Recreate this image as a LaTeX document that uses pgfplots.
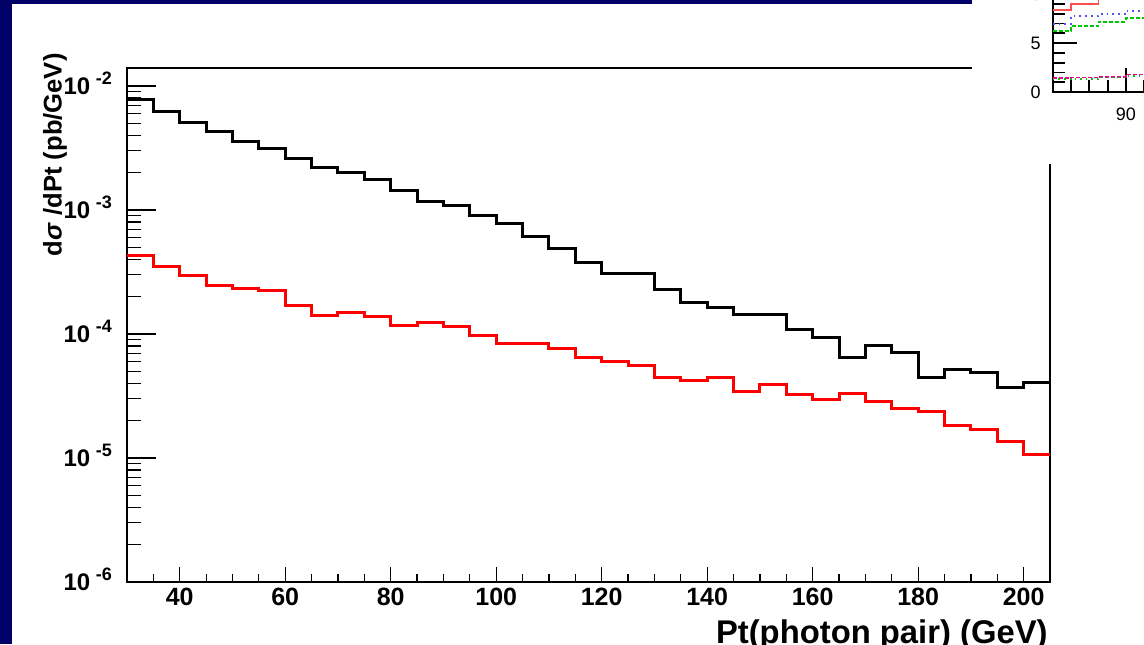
\documentclass[border=0pt]{standalone}
\usepackage{fontspec}
\setmainfont{Liberation Sans}
\usepackage{pgfplots}
\pgfplotsset{compat=1.18}
\definecolor{navy}{RGB}{0,0,102}
\definecolor{lred}{RGB}{255,80,80}
\definecolor{lblue}{RGB}{80,80,255}
\definecolor{lgreen}{RGB}{0,200,0}
\newcommand{\ylab}[1]{10\hspace{2.8pt}\smash{\raisebox{4.8pt}{\fontsize{9}{9}\selectfont\bfseries #1}}}
\begin{document}
\begin{tikzpicture}
\useasboundingbox (0,0) rectangle (572pt,-322pt);
\clip (0,0) rectangle (572pt,-322pt);
\fill[navy] (0,0) rectangle (572pt,-322pt);
\fill[white] (6pt,-2pt) rectangle (572pt,-322pt);
% main axis (y ticks, frame, histograms)
\begin{axis}[
  at={(63.5pt,-291pt)}, anchor=south west, scale only axis,
  width=461.5pt, height=257pt,
  xmin=30, xmax=205, ymode=log, ymin=1e-6, ymax=0.01396,
  xtick=\empty,
  ytick={1e-6,1e-5,1e-4,1e-3,1e-2},
  minor ytick={2e-6,3e-6,4e-6,5e-6,6e-6,7e-6,8e-6,9e-6,
               2e-5,3e-5,4e-5,5e-5,6e-5,7e-5,8e-5,9e-5,
               2e-4,3e-4,4e-4,5e-4,6e-4,7e-4,8e-4,9e-4,
               2e-3,3e-3,4e-3,5e-3,6e-3,7e-3,8e-3,9e-3},
  yticklabels={\ylab{-6},\ylab{-5},\ylab{-4},\ylab{-3},\ylab{-2}},
  ytick pos=left, tick align=inside,
  major tick length=14.5pt, minor tick length=7pt,
  axis line style={line width=0.6pt},
  tick style={black, line width=0.6pt},
  yticklabel style={font=\fontsize{12}{12}\selectfont\bfseries, anchor=east, xshift=-4pt},
]
\addplot[const plot, mark=none, black, line width=1.5pt] coordinates {
(30,7.76e-3) (35,6.2e-3) (40,5.09e-3) (45,4.28e-3) (50,3.56e-3) (55,3.14e-3)
(60,2.58e-3) (65,2.21e-3) (70,1.99e-3) (75,1.75e-3) (80,1.43e-3) (85,1.17e-3)
(90,1.08e-3) (95,9.0e-4) (100,7.81e-4) (105,6.1e-4) (110,4.85e-4) (115,3.78e-4)
(120,3.05e-4) (125,3.05e-4) (130,2.28e-4) (135,1.78e-4) (140,1.64e-4) (145,1.44e-4)
(150,1.44e-4) (155,1.09e-4) (160,9.4e-5) (165,6.44e-5) (170,8.1e-5) (175,7.1e-5)
(180,4.42e-5) (185,5.15e-5) (190,4.91e-5) (195,3.69e-5) (200,4.07e-5) (205,4.07e-5)};
\addplot[const plot, mark=none, red, line width=1.5pt] coordinates {
(30,4.28e-4) (35,3.52e-4) (40,2.99e-4) (45,2.45e-4) (50,2.34e-4) (55,2.24e-4)
(60,1.71e-4) (65,1.41e-4) (70,1.48e-4) (75,1.38e-4) (80,1.17e-4) (85,1.24e-4)
(90,1.15e-4) (95,9.7e-5) (100,8.45e-5) (105,8.45e-5) (110,7.66e-5) (115,6.45e-5)
(120,5.98e-5) (125,5.56e-5) (130,4.45e-5) (135,4.18e-5) (140,4.45e-5) (145,3.43e-5)
(150,3.90e-5) (155,3.27e-5) (160,2.94e-5) (165,3.34e-5) (170,2.88e-5) (175,2.53e-5)
(180,2.35e-5) (185,1.82e-5) (190,1.69e-5) (195,1.35e-5) (200,1.07e-5) (205,1.07e-5)};
\end{axis}
% overlay axis for x ticks
\begin{axis}[
  at={(63.5pt,-291pt)}, anchor=south west, scale only axis,
  width=461.5pt, height=257pt,
  xmin=30, xmax=205, ymin=0, ymax=1,
  hide y axis, axis x line*=bottom, axis line style={-, line width=0.6pt},
  xtick={40,60,80,100,120,140,160,180,200},
  minor xtick={35,45,50,55,65,70,75,85,90,95,105,110,115,125,130,135,145,150,155,165,170,175,185,190,195},
  xticklabels={40,60,80,100,120,140,160,180,200},
  tick align=inside, major tick length=7.7pt, minor tick length=3.8pt,
  tick style={black, line width=0.6pt},
  xticklabel style={font=\fontsize{12.5}{12.5}\selectfont\bfseries, yshift=0.5pt},
]
\end{axis}
% inset image region
\fill[white] (486pt,0pt) rectangle (572pt,-82pt);
\begin{axis}[
  at={(526.35pt,-46pt)}, anchor=south west, scale only axis,
  width=54.9pt, height=53.9pt,
  xmin=86, xmax=92, ymin=0, ymax=11,
  xtick={90}, minor xtick={87,88,89,91,92},
  ytick={0,5,10}, minor ytick={1,2,3,4,6,7,8,9},
  xticklabels={90}, yticklabels={0,5,10},
  xtick pos=left, ytick pos=left, tick align=inside,
  major tick length=12pt, minor tick length=6pt,
  axis line style={line width=0.9pt},
  tick style={black, line width=0.9pt},
  ticklabel style={font=\fontsize{9}{9}\selectfont},
  xticklabel style={yshift=-4.3pt}, yticklabel style={xshift=-2.5pt},
]
\addplot[const plot, mark=none, lred, line width=0.9pt] coordinates {(86,8.4) (87,8.95) (88.5,9.5) (90,9.7) (92,9.7)};
\addplot[const plot, mark=none, lblue, line width=0.9pt, dotted] coordinates {(86,6.94) (87,7.76) (88.5,7.96) (90,8.27) (92,8.27)};
\addplot[const plot, mark=none, lgreen, line width=0.9pt, dash pattern=on 2pt off 1pt] coordinates {(86,6.22) (87,6.73) (88.5,7.17) (90,7.52) (92,7.52)};
\addplot[const plot, mark=none, magenta, line width=0.8pt, dash pattern=on 2pt off 1pt] coordinates {(86,1.4) (87,1.5) (88.5,1.55) (90,1.8) (92,1.8)};
\addplot[const plot, mark=none, lgreen, line width=0.8pt, dotted] coordinates {(86,1.3) (87,1.35) (88.5,1.5) (90,1.65) (92,1.65)};
\end{axis}
% axis titles
\node[rotate=90, anchor=east, inner sep=0pt, font=\fontsize{12.8}{12.8}\selectfont\bfseries] at (27.5pt,-26.5pt) {d\textit{σ} /dPt (pb/GeV)};
\node[anchor=base east, inner sep=0pt, font=\fontsize{16.4}{16.4}\selectfont\bfseries] at (524pt,-321.5pt) {Pt(photon pair) (GeV)};
\end{tikzpicture}
\end{document}
